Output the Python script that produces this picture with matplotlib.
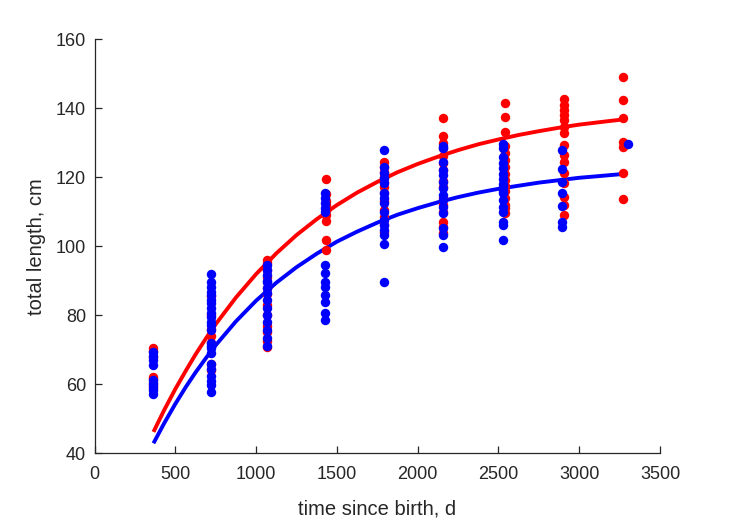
import matplotlib
matplotlib.use('Agg')
import matplotlib.pyplot as plt

plt.rcParams['font.family'] = ['Liberation Sans', 'DejaVu Sans']

# measured lengths, grouped by sampling age (days)
red_age = [365, 718, 1066, 1430, 1791, 2160, 2540, 2905, 3268]
red_len = [
    [70.4, 69.5, 68.0, 62.2, 61.5, 60.0, 59.0],
    [85.5, 80.0, 76.0, 74.0, 72.0, 66.0, 64.0],
    [96.0, 95.0, 93.0, 91.0, 88.0, 86.0, 83.0, 80.0, 77.0, 75.0, 72.5, 70.7],
    [119.4, 115.0, 113.0, 112.0, 110.5, 109.0, 107.4, 101.8, 98.9],
    [124.3, 123.0, 121.5, 120.0, 118.5, 117.2, 115.5, 113.0, 110.5, 108.5, 106.0, 104.0],
    [137.1, 131.8, 130.0, 128.5, 126.0, 124.0, 122.0, 119.0, 117.0, 114.0, 112.0, 110.0,
     107.1, 105.5, 103.7],
    [141.4, 137.5, 133.1, 129.0, 127.0, 125.0, 123.0, 121.0, 119.2, 117.5, 116.0, 114.0,
     112.0, 111.0, 109.5],
    [142.5, 141.0, 139.5, 138.0, 136.5, 134.6, 132.7, 129.3, 126.4, 124.5, 121.1, 118.2,
     114.3, 111.9, 109.0],
    [149.1, 142.3, 137.2, 130.3, 128.6, 121.3, 113.6],
]

blue_age = [365, 718, 1066, 1424, 1791, 2156, 2530, 2893, 3301]
blue_len = [
    [69.4, 68.2, 67.0, 65.6, 61.3, 60.5, 59.5, 58.4, 57.2],
    [92.0, 89.7, 88.3, 86.8, 85.8, 84.4, 83.4, 82.0, 80.5, 79.6, 78.1, 77.2, 75.7, 72.0,
     71.0, 70.5, 69.0, 66.0, 64.5, 62.5, 61.0, 59.8, 57.8],
    [94.6, 93.0, 91.6, 90.0, 89.7, 87.8, 86.3, 84.4, 82.0, 80.0, 78.1, 75.7, 73.3, 71.0],
    [115.3, 113.9, 112.4, 111.0, 110.0, 94.5, 92.1, 89.7, 88.3, 85.8, 83.9, 80.5, 78.6],
    [127.9, 123.0, 121.1, 119.7, 118.2, 115.3, 113.9, 112.4, 110.0, 107.6, 106.1, 104.7,
     103.2, 100.5, 89.7],
    [129.0, 128.3, 124.5, 122.0, 120.6, 118.7, 116.8, 114.8, 113.4, 111.4, 109.5, 105.2,
     103.2, 99.7],
    [129.5, 128.5, 125.9, 124.0, 122.5, 121.0, 119.5, 118.0, 117.0, 116.0, 115.3, 113.4,
     111.4, 110.0, 107.1, 106.1, 101.8],
    [127.9, 122.3, 118.7, 115.5, 111.6, 107.1, 105.6],
    [129.6],
]

# growth curves
curve_t = [365, 430, 500, 565, 625, 690, 750, 875, 1000, 1125, 1250, 1375, 1500, 1625,
           1750, 1875, 2000, 2125, 2250, 2375, 2500, 2625, 2750, 2875, 3000, 3125, 3270]
red_curve = [46.2, 52.4, 58.6, 63.9, 68.6, 73.3, 77.4, 85.1, 91.9, 97.9, 103.2, 107.8,
             111.9, 115.5, 118.6, 121.4, 123.8, 125.9, 127.8, 129.5, 130.9, 132.2, 133.3,
             134.3, 135.2, 135.9, 136.7]
blue_curve = [42.9, 48.6, 54.3, 59.2, 63.4, 67.6, 71.3, 78.2, 84.2, 89.4, 93.9, 97.8,
              101.3, 104.2, 106.8, 109.1, 111.0, 112.7, 114.2, 115.5, 116.6, 117.5, 118.4,
              119.1, 119.8, 120.3, 120.9]

W, H = 729, 521
fig = plt.figure(figsize=(W / 100, H / 100), dpi=100)
ax = fig.add_axes([94.5 / W, (H - 453.3) / H, (660 - 94.5) / W, (453.3 - 39) / H])

ax.plot(curve_t, red_curve, color=(1, 0, 0), linewidth=2.8, solid_capstyle='butt',
        solid_joinstyle='round')
ax.plot(curve_t, blue_curve, color=(0, 0, 1), linewidth=2.8, solid_capstyle='butt',
        solid_joinstyle='round')

for a, ls in zip(red_age, red_len):
    ax.plot([a] * len(ls), ls, 'o', color=(1, 0, 0), markersize=6.8, markeredgewidth=0)
for a, ls in zip(blue_age, blue_len):
    ax.plot([a] * len(ls), ls, 'o', color=(0, 0, 1), markersize=6.8, markeredgewidth=0)

ax.set_xlim(0, 3500)
ax.set_ylim(40, 160)
ax.set_xticks(range(0, 3501, 500))
ax.set_yticks(range(40, 161, 20))

dark = (0.15, 0.15, 0.15)
for side in ['top', 'right']:
    ax.spines[side].set_visible(False)
for side in ['left', 'bottom']:
    ax.spines[side].set_color(dark)
    ax.spines[side].set_linewidth(0.9)
ax.tick_params(direction='in', length=5, width=0.9, colors=dark, labelsize=13)
ax.tick_params(axis='x', pad=9)
ax.tick_params(axis='y', pad=6)

ax.set_xlabel('time since birth, d', fontsize=14.5, color=dark, labelpad=12)
ax.set_ylabel('total length, cm', fontsize=14.5, color=dark, labelpad=7)

fig.savefig('out.png', dpi=100)
